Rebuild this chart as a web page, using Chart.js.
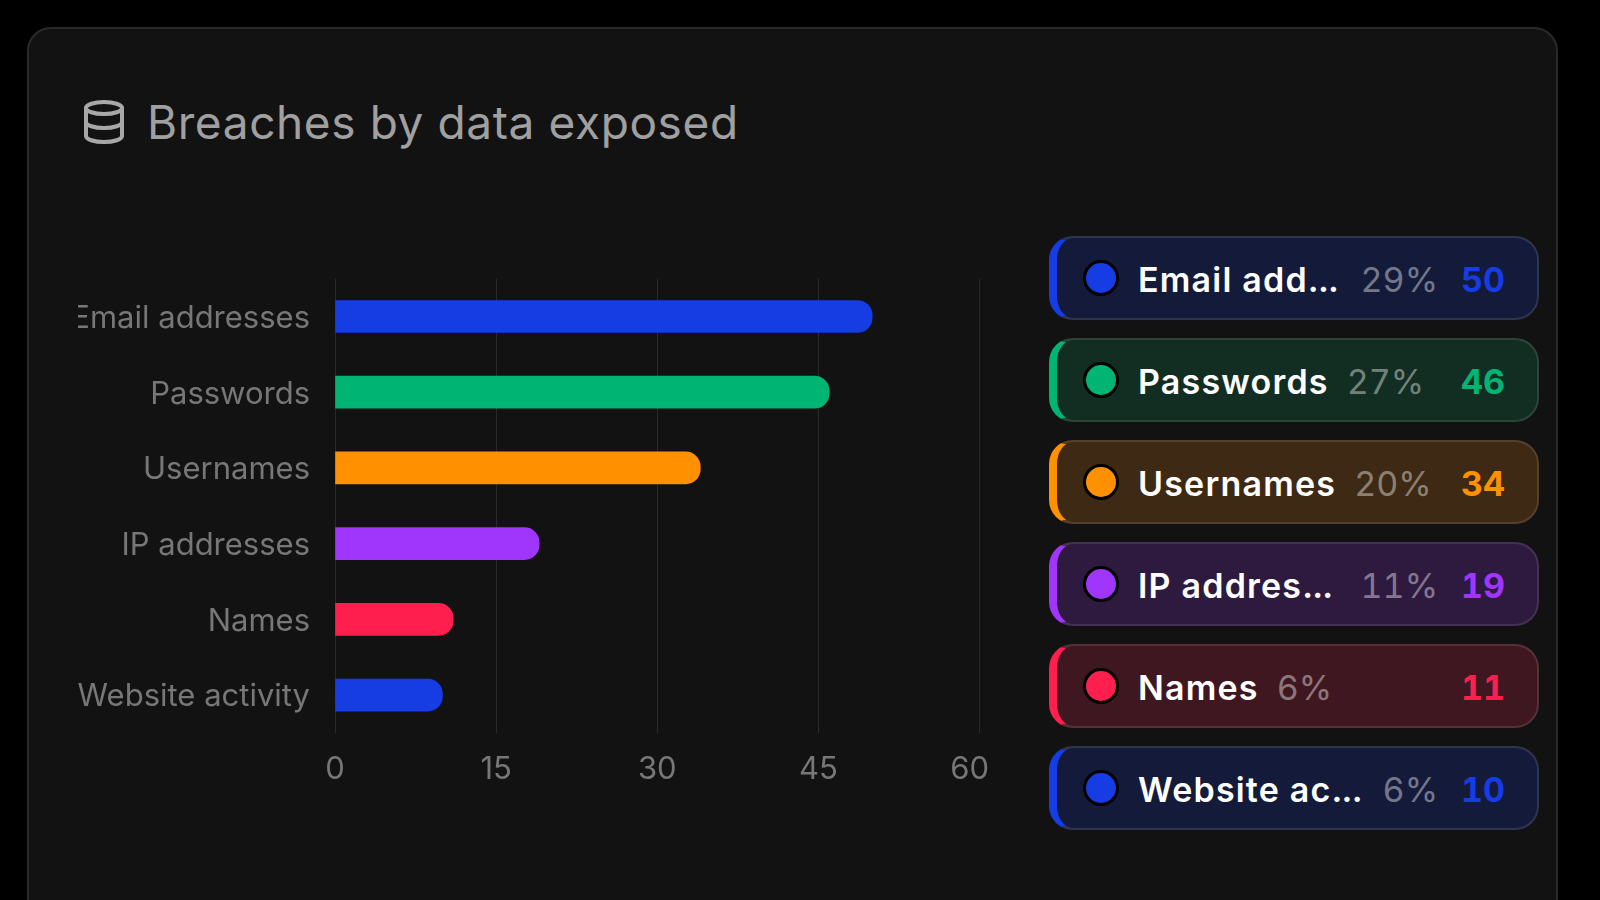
<!DOCTYPE html>
<html>
<head>
<meta charset="utf-8">
<script src="https://cdn.jsdelivr.net/npm/chart.js@4"></script>
<style>
html, body { margin: 0; width: 1600px; height: 900px; background: #000; overflow: hidden; font-family: Inter, sans-serif; }
#page { position: absolute; left: 0; top: 0; width: 1600px; height: 900px; overflow: hidden; filter: blur(0.5px); }
#card { position: absolute; left: 27px; top: 27px; width: 1531px; height: 1000px; box-sizing: border-box; background: #121212; border: 2px solid #2a2a2a; border-radius: 24px; }
#icon { position: absolute; left: 80px; top: 98px; width: 48px; height: 48px; }
#title { position: absolute; left: 147px; top: 95px; font-size: 46px; letter-spacing: 0.6px; line-height: 54px; color: #a0a0a0; white-space: nowrap; }
#chartBox { position: absolute; left: 78px; top: 235px; }
.row { position: absolute; left: 1049px; width: 490px; height: 84px; box-sizing: border-box; border: 2px solid; border-left-width: 8px; border-radius: 24px; display: flex; align-items: center; padding-left: 26px; padding-right: 32px; }
.dot { flex: none; width: 30px; height: 30px; border-radius: 50%; border: 3px solid #000; margin-right: 19px; }
.name { flex: none; white-space: nowrap; color: #fff; font-size: 34px; letter-spacing: 1.2px; font-weight: 600; position: relative; top: 1px; }
.name.cut { flex: 1; }
.name span { letter-spacing: -0.8px; }
.pct { flex: none; margin-left: 18px; color: rgba(255, 255, 255, 0.42); font-size: 34px; font-variant-numeric: tabular-nums; position: relative; top: 1px; }
.val { flex: none; margin-left: auto; padding-left: 23px; font-size: 34px; font-weight: 700; font-variant-numeric: tabular-nums; position: relative; top: 1px; }
</style>
</head>
<body>
<div id="page">
<div id="card"></div>
<svg id="icon" viewBox="0 0 24 24" fill="none" stroke="#a8a8a8" stroke-width="2" stroke-linecap="round" stroke-linejoin="round">
    <ellipse cx="12" cy="5" rx="9" ry="3"></ellipse>
    <path d="M3 5V19A9 3 0 0 0 21 19V5"></path>
    <path d="M3 12A9 3 0 0 0 21 12"></path>
</svg>
<div id="title">Breaches by data exposed</div>
<div id="chartBox"><canvas id="myChart" width="939" height="566"></canvas></div>
<div id="legend"></div>
</div>
<script>
"use strict";

const categories = ['Email addresses', 'Passwords', 'Usernames', 'IP addresses', 'Names', 'Website activity'];
const rowLabels = ['Email add...', 'Passwords', 'Usernames', 'IP addres...', 'Names', 'Website ac...'];
const breachCounts = [50, 46, 34, 19, 11, 10];
const percents = ['29%', '27%', '20%', '11%', '6%', '6%'];
const xTicks = [0, 15, 30, 45, 60];

const barColors = ['#153de3', '#00b473', '#ff9100', '#a035fb', '#ff1f4e', '#153de3'];
const rowFills = ['#141b3a', '#122d22', '#3e2a14', '#2e1a3e', '#3f1720', '#141b3a'];
const rowBorders = ['#2e3550', '#2d4539', '#55412b', '#453252', '#573039', '#2e3550'];

const legend = document.getElementById('legend');
for (let i = 0; i < categories.length; i++) {
    const row = document.createElement('div');
    const cut = rowLabels[i].endsWith('...') ? ' cut' : '';
    row.className = 'row';
    row.style.top = (236 + i * 102) + 'px';
    row.style.background = rowFills[i];
    row.style.borderColor = rowBorders[i];
    row.style.borderLeftColor = barColors[i];
    row.innerHTML = '<span class="dot" style="background:' + barColors[i] + '"></span>' +
        '<span class="name' + cut + '">' + rowLabels[i].replace('...', '<span>...</span>') + '</span>' +
        '<span class="pct">' + percents[i] + '</span>' +
        '<span class="val" style="color:' + barColors[i] + '">' + breachCounts[i] + '</span>';
    legend.appendChild(row);
}

// nudge labels: last x label sits left of its grid line, y labels a bit lower
const nudgeLabels = {
    id: 'nudgeLabels',
    beforeDraw(chart) {
        if (chart.$nudged) {
            return;
        }
        chart.$nudged = true;
        const xItems = chart.scales.x.getLabelItems();
        xItems[xItems.length - 1].options.translation[0] -= 10;
        chart.scales.y.getLabelItems().forEach(item => {
            item.options.translation[1] += 2;
        });
    }
};

const ctx = document.getElementById('myChart').getContext('2d');
new Chart(ctx, {
    type: 'bar',
    data: {
        labels: categories,
        datasets: [{
            data: breachCounts,
            backgroundColor: barColors,
            barThickness: 32,
            borderSkipped: false,
            borderRadius: { topLeft: 0, bottomLeft: 0, topRight: 15, bottomRight: 15 }
        }]
    },
    options: {
        indexAxis: 'y',
        responsive: false,
        animation: false,
        layout: { padding: { top: 28, right: 28, left: 0, bottom: 0 } },
        plugins: { legend: { display: false }, tooltip: { enabled: false } },
        scales: {
            x: {
                min: 0,
                max: 60,
                afterBuildTicks(scale) { scale.ticks = xTicks.map(v => ({ value: v })); },
                afterFit(scale) { scale.height = 68; },
                border: { display: false },
                grid: { color: '#2a2a2a', lineWidth: 1, drawTicks: false },
                ticks: { color: '#777', font: { family: 'Inter', size: 31 }, padding: 18, maxRotation: 0 }
            },
            y: {
                afterFit(scale) { scale.width = 257; },
                border: { display: false },
                grid: { display: false, drawTicks: false },
                ticks: { color: '#777', font: { family: 'Inter', size: 31 }, padding: 25 }
            }
        }
    },
    plugins: [nudgeLabels]
});
</script>
</body>
</html>
